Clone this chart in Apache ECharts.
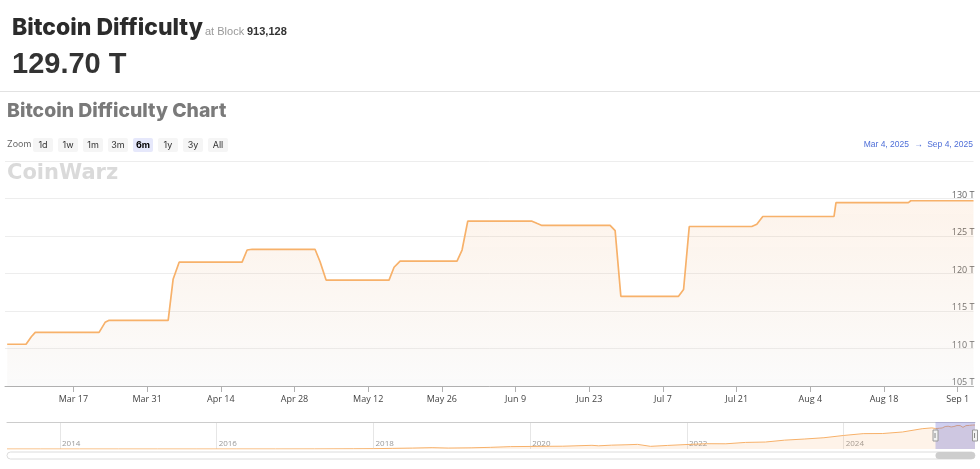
<!DOCTYPE html>
<html><head><meta charset="utf-8">
<script src="https://cdn.jsdelivr.net/npm/echarts@6/dist/echarts.min.js"></script>
<style>html,body{margin:0;padding:0;background:#fff}#c{width:980px;height:469px}</style>
</head><body><div id="c"></div>
<script>
// ---- data ----
const times = ['2025-03-04 10:00','2025-03-08 00:00','2025-03-09 00:00','2025-03-09 18:00','2025-03-21 21:00','2025-03-23 00:30','2025-03-23 19:00','2025-04-04 00:00','2025-04-04 22:30','2025-04-06 02:00','2025-04-18 01:00','2025-04-19 00:00','2025-04-19 23:00','2025-05-01 21:30','2025-05-02 20:40','2025-05-04 00:00','2025-05-15 23:00','2025-05-16 22:00','2025-05-18 01:30','2025-05-28 21:00','2025-05-29 20:00','2025-05-30 22:00','2025-06-12 03:00','2025-06-13 00:45','2025-06-14 00:00','2025-06-26 23:00','2025-06-27 22:00','2025-06-29 00:00','2025-07-09 23:00','2025-07-10 22:00','2025-07-12 00:00','2025-07-23 21:00','2025-07-24 20:00','2025-07-25 23:15','2025-08-08 12:00','2025-08-08 21:00','2025-08-22 15:00','2025-08-23 02:00','2025-09-04 00:00'];
const difficulty = [110.57,110.57,111.57,112.15,112.15,113.49,113.76,113.76,119.23,121.51,121.51,123.13,123.23,123.23,121.57,119.12,119.12,120.83,121.66,121.66,123.13,126.98,126.98,126.69,126.41,126.41,125.71,116.96,116.96,117.87,126.27,126.27,126.56,127.60,127.60,129.44,129.44,129.70,129.70];
const historyDates = ['2013-04-29','2013-10-01','2014-04-01','2014-10-01','2015-04-01','2015-10-01','2016-04-01','2016-10-01','2017-04-01','2017-10-01','2018-01-01','2018-04-01','2018-07-01','2018-10-01','2018-12-15','2019-04-01','2019-07-01','2019-10-01','2020-01-01','2020-04-01','2020-06-01','2020-10-15','2020-11-15','2021-01-15','2021-04-01','2021-05-15','2021-07-15','2021-10-01','2022-01-01','2022-04-01','2022-07-01','2022-10-01','2023-01-01','2023-04-01','2023-07-01','2023-10-01','2024-01-01','2024-04-01','2024-07-01','2024-10-01','2025-01-01','2025-02-15'];
const historyValues = [0.00001,0.0003,0.006,0.035,0.047,0.06,0.17,0.25,0.5,1.2,1.9,3.5,5.0,7.2,5.1,6.4,9.0,12.8,13.8,14.7,15.1,19.9,17.3,20.8,23.1,25.0,14.4,19.2,24.3,28.6,28.2,35.6,37.6,47.9,53.9,61.0,73.2,83.1,83.7,92.0,109.8,114.2];
const xTicks = ['2025-03-17','2025-03-31','2025-04-14','2025-04-28','2025-05-12','2025-05-26','2025-06-09','2025-06-23','2025-07-07','2025-07-21','2025-08-04','2025-08-18','2025-09-01'];
const yearTicks = ['2014-01-01','2016-01-01','2018-01-01','2020-01-01','2022-01-01','2024-01-01'];
const zoomButtons = ['1d','1w','1m','3m','6m','1y','3y','All'];
const selectedZoom = '6m';
const rangeStart = '2025-03-04', rangeEnd = '2025-09-04';
const navStart = '2013-04-29';
const yMin = 105, yMax = 135, yStep = 5;

const months = ['Jan','Feb','Mar','Apr','May','Jun','Jul','Aug','Sep','Oct','Nov','Dec'];
const P = s => echarts.time.parse(s).getTime();

const mainData = times.map((t, i) => [P(t), difficulty[i]]);
const navData = historyDates.map((t, i) => [P(t), historyValues[i]]).concat(mainData);

const AX = "'Open Sans', sans-serif";
const HD = "Inter, 'Noto Sans', sans-serif";
const LS = "'Liberation Sans', Arial, sans-serif";

const graphics = [
  {type:'text', left:12, top:17, style:{text:'Bitcoin Difficulty', font:"800 23px "+HD, fill:'#2b2b2b'}},
  {type:'text', left:205, top:26, style:{text:'at Block', font:"11px "+LS, fill:'#999'}},
  {type:'text', left:247, top:26, style:{text:'913,128', font:"bold 11px "+LS, fill:'#333'}},
  {type:'text', left:12, top:50, style:{text:'129.70 T', font:"bold 29px "+LS, fill:'#333'}},
  {type:'line', shape:{x1:0,y1:91.5,x2:980,y2:91.5}, style:{stroke:'#e2e2e2', lineWidth:1}},
  {type:'text', left:7, top:102, style:{text:'Bitcoin Difficulty Chart', font:"800 19.4px "+HD, fill:'#7a7a7a'}},
  {type:'text', left:7, top:140, style:{text:'Zoom', font:"9px "+HD, fill:'#666'}},
  {type:'text', x:909, y:145, style:{text:'Mar 4, 2025', font:"8.5px "+LS, fill:'#4f6fd8', align:'right', verticalAlign:'middle'}},
  {type:'text', x:918.5, y:145, style:{text:'→', font:"8.5px "+LS, fill:'#4f6fd8', align:'center', verticalAlign:'middle'}},
  {type:'text', x:973, y:145, style:{text:'Sep 4, 2025', font:"8.5px "+LS, fill:'#4f6fd8', align:'right', verticalAlign:'middle'}},
  {type:'text', left:7, top:163, style:{text:'CoinWarz', font:"900 21px 'DejaVu Sans', sans-serif", fill:'#dadada'}}
];
zoomButtons.forEach((b, i) => {
  const sel = b === selectedZoom;
  graphics.push({type:'rect', shape:{x:33+25*i, y:138, width:20, height:14, r:2}, style:{fill: sel ? '#e6e8fb' : '#f5f5f5'}});
  graphics.push({type:'text', x:43+25*i, y:145, style:{text:b, font:(sel?'bold ':'')+"9px "+HD, fill: sel ? '#000' : '#333', align:'center', verticalAlign:'middle'}});
});

const option = {
  animation:false,
  graphic: graphics,
  grid:[
    {left:5, right:6.5, top:161, height:225, containLabel:false},
    {left:7, right:5, top:422, height:27, containLabel:false}
  ],
  xAxis:[
    {type:'value', gridIndex:0, min:P(rangeStart), max:P(rangeEnd),
     axisLine:{lineStyle:{color:'#b0b0b0'}},
     axisTick:{show:true, length:6, lineStyle:{color:'#b0b0b0'}, customValues:xTicks.map(P)},
     axisLabel:{customValues:xTicks.map(P), margin:9, fontSize:9, fontFamily:AX, color:'#444',
       formatter: v => { const d = new Date(v); return months[d.getMonth()] + ' ' + d.getDate(); }},
     splitLine:{show:false}},
    {type:'value', gridIndex:1, min:P(navStart), max:P(rangeEnd),
     axisLine:{show:false},
     axisTick:{show:false, customValues:yearTicks.map(P)},
     axisLabel:{customValues:yearTicks.map(P), inside:true, align:'left', verticalAlign:'bottom', margin:1, padding:[0,0,0,2], fontSize:8, fontFamily:AX, color:'#999',
       formatter: v => String(new Date(v).getFullYear())},
     splitLine:{show:true, lineStyle:{color:'#e6e6e6'}}},
    {type:'value', gridIndex:1, position:'top', min:0, max:1,
     axisLine:{show:true, lineStyle:{color:'#cccccc'}}, axisTick:{show:false}, axisLabel:{show:false}, splitLine:{show:false}}
  ],
  yAxis:[
    {type:'value', gridIndex:0, position:'right', min:yMin, max:yMax, interval:yStep,
     axisLine:{show:false}, axisTick:{show:false},
     axisLabel:{inside:true, showMaxLabel:false, margin:-1, verticalAlign:'bottom', lineHeight:7, fontSize:9, fontFamily:AX, color:'#666', formatter:'{value} T'},
     splitLine:{lineStyle:{color:'#ededed'}}},
    {type:'value', gridIndex:1, min:0, max:146, show:false}
  ],
  series:[
    {type:'line', xAxisIndex:0, yAxisIndex:0, data:mainData, showSymbol:false, symbol:'none',
     lineStyle:{color:'#f7b16a', width:1.7},
     areaStyle:{origin:'start', color:new echarts.graphic.LinearGradient(0,0,0,1,[{offset:0,color:'rgba(240,160,90,0.17)'},{offset:1,color:'rgba(225,225,225,0.2)'}])}},
    {type:'line', xAxisIndex:1, yAxisIndex:1, data:navData, showSymbol:false, symbol:'none',
     lineStyle:{color:'#f7b16a', width:1},
     areaStyle:{origin:'start', color:'rgba(245,170,100,0.2)'}},
    {type:'custom', xAxisIndex:1, yAxisIndex:1, clip:false, z:5,
     data:[[P(rangeStart), P(rangeEnd)]],
     encode:{x:[0,1]},
     renderItem:(params, api) => {
       const s = api.coord([api.value(0), 0]);
       const e = api.coord([api.value(1), 0]);
       const cs = params.coordSys;
       const top = cs.y, h = cs.height, mid = top + h/2;
       const handle = x => [
         {type:'rect', shape:{x:x-2.5, y:mid-5.5, width:5, height:11}, style:{fill:'#f2f2f2', stroke:'#999', lineWidth:1}},
         {type:'line', shape:{x1:x-0.5, y1:mid-2.5, x2:x-0.5, y2:mid+2.5}, style:{stroke:'#888', lineWidth:1}}
       ];
       return {type:'group', children:[
         {type:'rect', shape:{x:s[0], y:top, width:e[0]-s[0], height:h}, style:{fill:'rgba(110,110,210,0.33)'}},
         {type:'rect', shape:{x:cs.x, y:top+h+3, width:cs.width, height:7, r:3.5}, style:{fill:'#fff', stroke:'#dcdcdc', lineWidth:1}},
         {type:'rect', shape:{x:s[0], y:top+h+3, width:e[0]-s[0], height:7, r:3.5}, style:{fill:'#cdcdcd'}}
       ].concat(handle(s[0]), handle(e[0]))};
     }}
  ]
};
const chart = echarts.init(document.getElementById('c'), null, {renderer:'canvas'});
chart.setOption(option);
</script>
</body></html>
